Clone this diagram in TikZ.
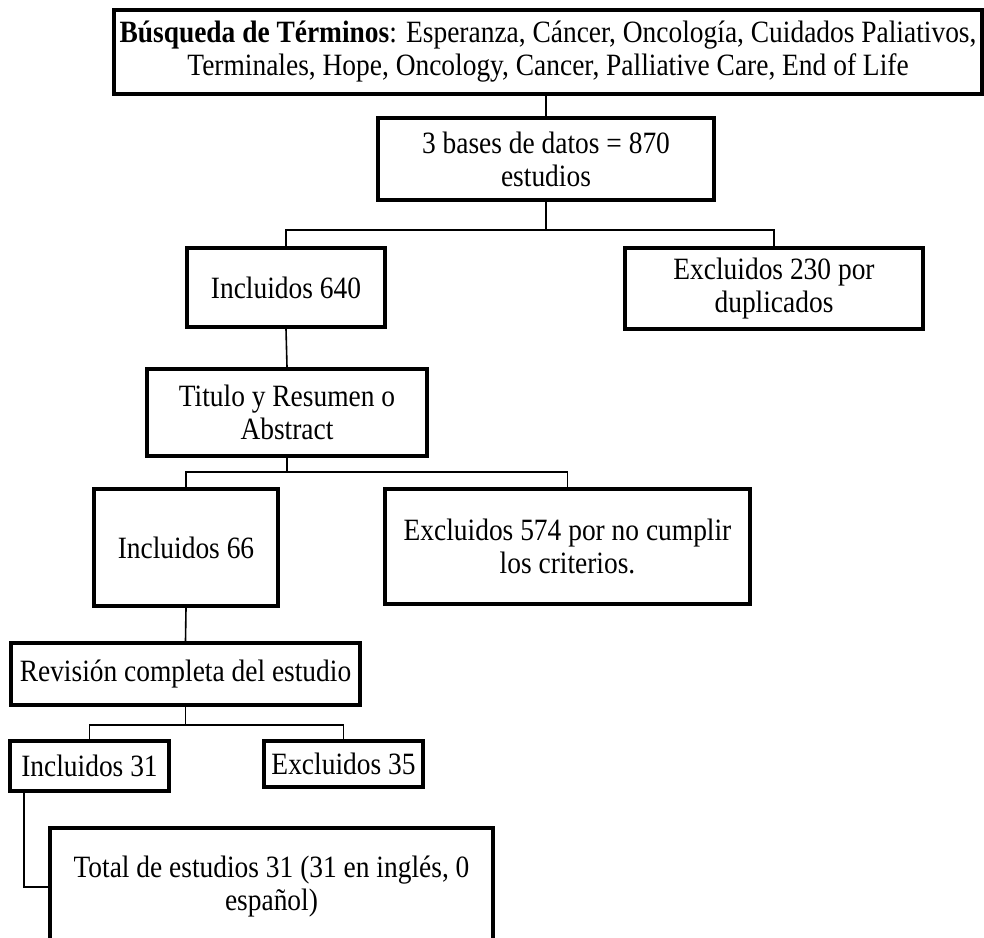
\documentclass[tikz,border=0pt]{standalone}
\usepackage{fontspec}
\setmainfont{Liberation Serif}[FakeStretch=0.885]
\usepackage{tikz}
\usetikzlibrary{positioning}

\begin{document}
\begin{tikzpicture}[
    x=0.5pt, y=-0.5pt,
    font=\fontsize{15.5}{16.5}\selectfont,
    stage/.style={draw=black, line width=2pt, fill=white, inner sep=1pt, align=center},
    conn/.style={draw=black, line width=0.8pt}
]
\clip (0,0) rectangle (984,937);

% Search and databases
\node[stage, minimum width=434pt, minimum height=42pt] (terms) at (548,52) {\textbf{Búsqueda de Términos}: Esperanza, Cáncer, Oncología, Cuidados Paliativos,\\Terminales, Hope, Oncology, Cancer, Palliative Care, End of Life};
\node[stage, minimum width=168pt, minimum height=41pt] (bases) at (546,159) {3 bases de datos = 870\\estudios};

% First screening
\node[stage, minimum width=99pt, minimum height=39.5pt] (inc1) at (286,287.5) {Incluidos 640};
\node[stage, minimum width=149pt, minimum height=40.5pt] (exc1) at (774,288.5) {Excluidos 230 por\\duplicados};

% Title and abstract
\node[stage, minimum width=140pt, minimum height=43.5pt] (title) at (287,412.5) {Titulo y Resumen o\\Abstract};
\node[stage, minimum width=92pt, minimum height=58.5pt] (inc2) at (186,547.5) {Incluidos 66};
\node[stage, minimum width=182.5pt, minimum height=57.5pt] (exc2) at (567.5,546.5) {Excluidos 574 por no cumplir\\los criterios.};

% Full review
\node[stage, minimum width=174.5pt, minimum height=31pt] (rev) at (185.5,674) {Revisión completa del estudio};
\node[stage, minimum width=79.5pt, minimum height=25pt] (inc3) at (89.5,766) {Incluidos 31};
\node[stage, minimum width=79.5pt, minimum height=23pt] (exc3) at (343.5,764) {Excluidos 35};
\node[stage, minimum width=221.5pt, minimum height=59pt] (total) at (271.5,887) {Total de estudios 31 (31 en inglés, 0\\español)};

% Connectors
\draw[conn] (bases.north |- terms.south) -- (bases.north);
\draw[conn] (bases.south) -- ++(0,28) -| (inc1.north);
\draw[conn] (bases.south) -- ++(0,28) -| (exc1.north);
\draw[conn] (inc1.south) -- (title.north);
\draw[conn] (title.south) -- ++(0,14) -| (inc2.north);
\draw[conn] (title.south) -- ++(0,14) -| (exc2.north);
\draw[conn] (inc2.south) -- (rev.north);
\draw[conn] (rev.south) -- ++(0,18) -| (inc3.north);
\draw[conn] (rev.south) -- ++(0,18) -| (exc3.north);
\draw[conn] ([xshift=8pt]inc3.south west) |- (total.west);

\end{tikzpicture}
\end{document}
